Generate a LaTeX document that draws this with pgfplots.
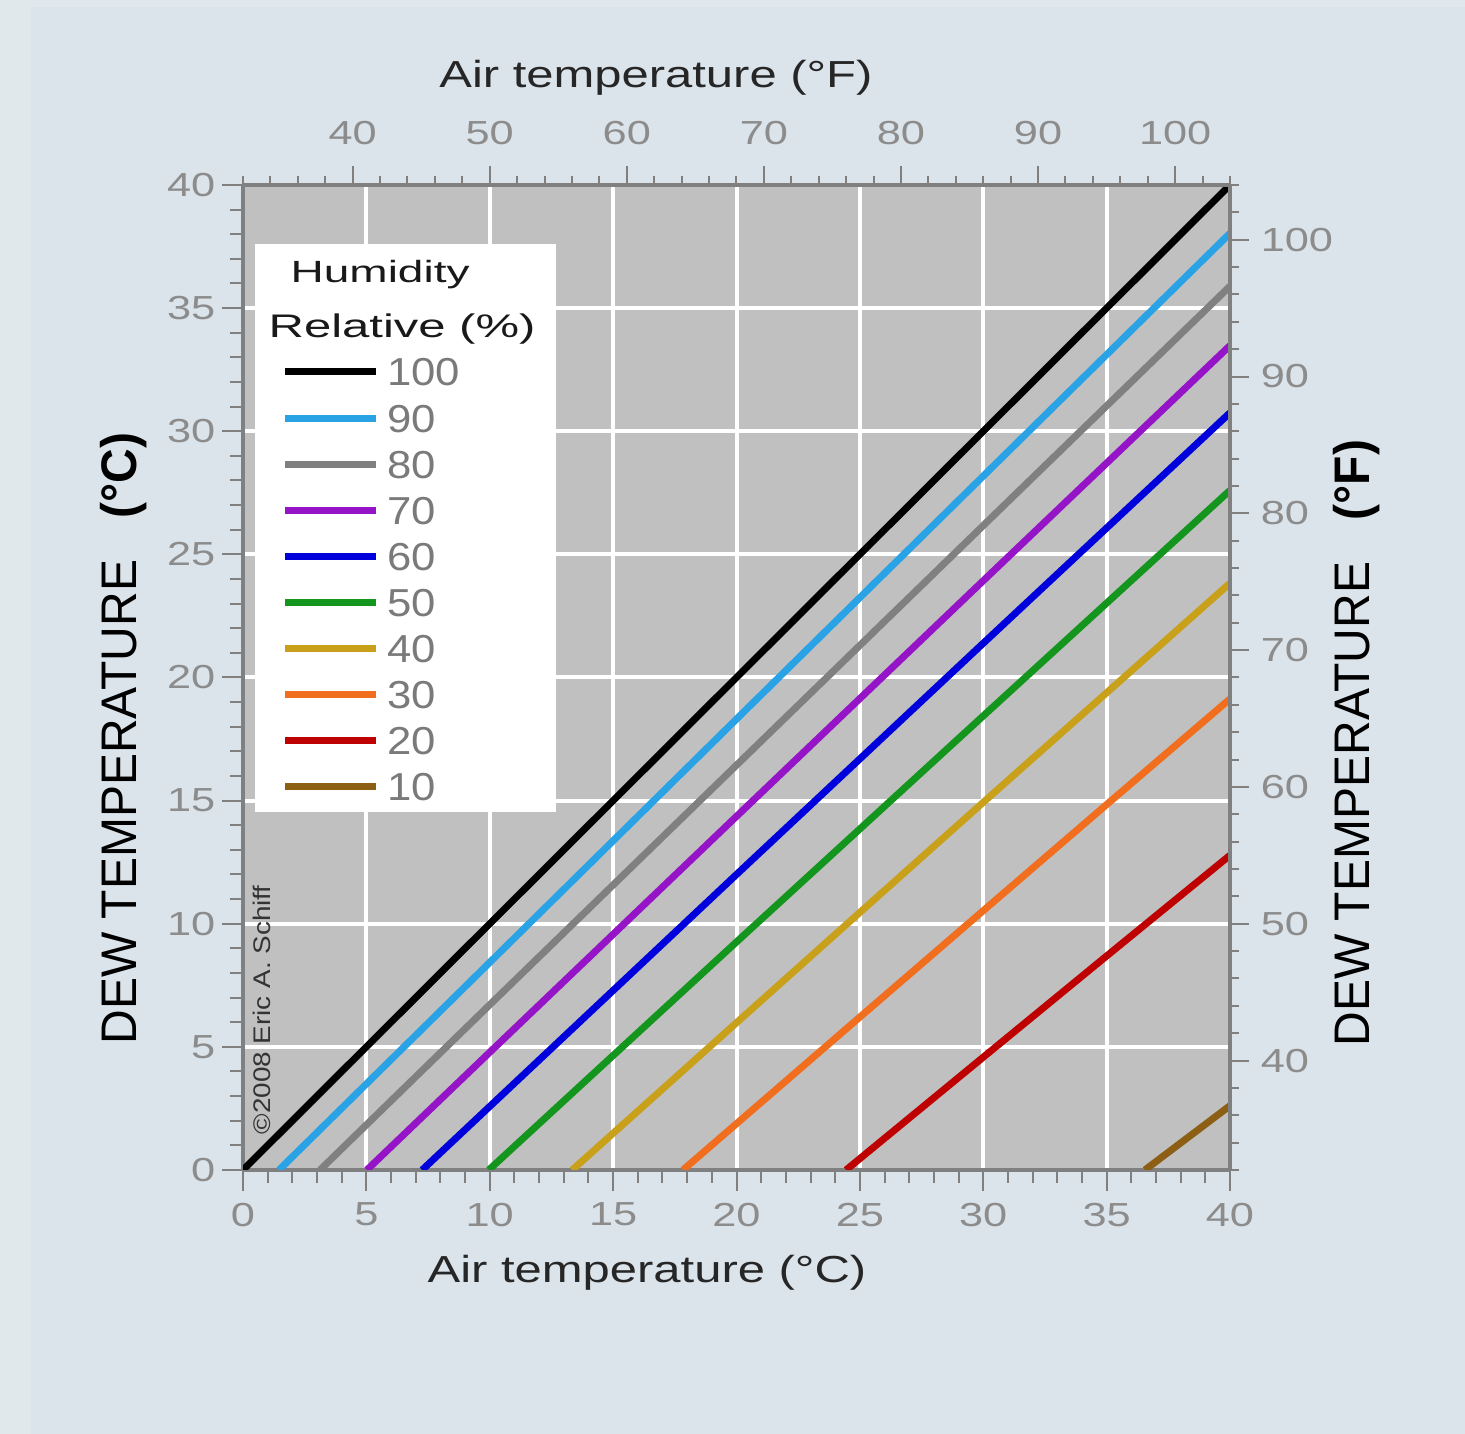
\documentclass[border=0pt]{standalone}
\usepackage{fontspec}
\setmainfont{Liberation Sans}
\usepackage{pgfplots}
\pgfplotsset{compat=1.18}

\definecolor{outerbg}{HTML}{E1E8EC}
\definecolor{innerbg}{HTML}{DCE4EB}
\definecolor{plotgray}{HTML}{C0C0C0}
\definecolor{axisgray}{HTML}{808080}
\definecolor{tickgray}{HTML}{8C8C8C}
\definecolor{leggray}{HTML}{7A7A7A}
\definecolor{rh90}{HTML}{29A3E6}
\definecolor{rh80}{HTML}{808080}
\definecolor{rh70}{HTML}{9614C8}
\definecolor{rh60}{HTML}{0000DC}
\definecolor{rh50}{HTML}{14961E}
\definecolor{rh40}{HTML}{C9A01A}
\definecolor{rh30}{HTML}{F06E1E}
\definecolor{rh20}{HTML}{BE0000}
\definecolor{rh10}{HTML}{8C5F14}

\begin{document}
\begin{tikzpicture}
\fill[outerbg] (0,0) rectangle (439.5pt,430.2pt);
\fill[innerbg] (9.3pt,0) rectangle (439.5pt,428.1pt);

% Celsius axes (bottom / left)
\begin{axis}[
  at={(72.9pt,79.2pt)}, anchor=south west,
  scale only axis, width=296.1pt, height=295.5pt,
  xmin=0, xmax=40, ymin=0, ymax=40,
  axis x line*=bottom, axis y line*=left,
  xtick={0,5,...,40}, ytick={0,5,...,40},
  minor x tick num=4, minor y tick num=4,
  tick align=outside,
  major tick length=6.3pt, minor tick length=3.9pt,
  tick style={axisgray, line width=0.6pt},
  axis line style={axisgray, line width=1pt},
  grid=major, major grid style={white, line width=1.2pt},
  axis background/.style={fill=plotgray},
  /pgf/number format/assume math mode=true,
  tick label style={font=\fontsize{10}{12}\selectfont, text=tickgray},
  yticklabel style={xshift=1.5pt},
  xticklabel={\scalebox{1.3}[1]{\pgfmathprintnumber{\tick}}},
  yticklabel={\scalebox{1.3}[1]{\pgfmathprintnumber{\tick}}},
  xlabel={\scalebox{1.3}[1]{Air temperature (°C)}},
  xlabel style={at={(axis description cs:0.4093,-0.1147)}, anchor=base, inner sep=0pt,
    font=\fontsize{11.3}{13}\selectfont, text=black!85},
  ylabel={\scalebox{0.96}[1]{DEW TEMPERATURE\hspace{13pt}\textbf{(°C)}}},
  ylabel style={at={(axis description cs:-0.1074,0.1269)}, anchor=base west, inner sep=0pt,
    font=\fontsize{15}{17}\selectfont, text=black},
  legend style={at={(axis description cs:0.0395,0.8244)}, anchor=north west,
    draw=none, fill=none, inner sep=0pt, outer sep=0pt,
    font=\fontsize{11.7}{12}\selectfont, text=leggray,
    row sep=5.43pt, column sep=2.2pt,
    cells={anchor=base west},
    nodes={inner sep=0pt, text height=8.4pt, text depth=0pt}},
  legend image code/.code={\draw[#1] (0pt,4.2pt) -- (27.3pt,4.2pt);},
]
\addplot[black, line width=2.1pt] coordinates {(0,0) (40,40)};
\addlegendentry{\scalebox{1.12}[1]{100}}
\addplot[rh90, line width=2.1pt] coordinates {(1.46,0) (10,8.43) (20,18.31) (30,28.18) (40,38.04)};
\addlegendentry{\scalebox{1.12}[1]{90}}
\addplot[rh80, line width=2.1pt] coordinates {(3.12,0) (10,6.71) (20,16.44) (30,26.17) (40,35.89)};
\addlegendentry{\scalebox{1.12}[1]{80}}
\addplot[rh70, line width=2.1pt] coordinates {(5.02,0) (10,4.78) (20,14.36) (30,23.93) (40,33.48)};
\addlegendentry{\scalebox{1.12}[1]{70}}
\addplot[rh60, line width=2.1pt] coordinates {(7.26,0) (10,2.58) (20,12.00) (30,21.39) (40,30.75)};
\addlegendentry{\scalebox{1.12}[1]{60}}
\addplot[rh50, line width=2.1pt] coordinates {(9.96,0) (15,4.65) (20,9.26) (30,18.44) (40,27.60)};
\addlegendentry{\scalebox{1.12}[1]{50}}
\addplot[rh40, line width=2.1pt] coordinates {(13.34,0) (20,5.98) (25,10.46) (30,14.93) (40,23.83)};
\addlegendentry{\scalebox{1.12}[1]{40}}
\addplot[rh30, line width=2.1pt] coordinates {(17.83,0) (20,1.88) (25,6.21) (30,10.53) (35,14.84) (40,19.13)};
\addlegendentry{\scalebox{1.12}[1]{30}}
\addplot[rh20, line width=2.1pt] coordinates {(24.44,0) (30,4.58) (35,8.69) (40,12.78)};
\addlegendentry{\scalebox{1.12}[1]{20}}
\addplot[rh10, line width=2.1pt] coordinates {(36.55,0) (40,2.61)};
\addlegendentry{\scalebox{1.12}[1]{10}}

% legend panel and titles
\fill[white] (axis description cs:0.0122,0.3635) rectangle (axis description cs:0.3171,0.9401);
\node[anchor=base west, inner sep=0pt, font=\fontsize{9.2}{10}\selectfont, text=black!90]
  at (axis description cs:0.0476,0.9005) {\scalebox{1.5}[1]{Humidity}};
\node[anchor=base west, inner sep=0pt, font=\fontsize{9.8}{11}\selectfont, text=black!90]
  at (axis description cs:0.0253,0.8447) {\scalebox{1.5}[1]{Relative (\%)}};
\node[rotate=90, anchor=base west, inner sep=0pt, font=\fontsize{7.2}{8}\selectfont, text=black!80]
  at (axis description cs:0.0274,0.0355) {\scalebox{1.16}[1]{©2008 Eric A. Schiff}};
\end{axis}

% Fahrenheit axes (top / right)
\begin{axis}[
  at={(72.9pt,79.2pt)}, anchor=south west,
  scale only axis, width=296.1pt, height=295.5pt,
  xmin=32, xmax=104, ymin=32, ymax=104,
  axis x line*=top, axis y line*=right,
  xtick={40,50,...,100}, ytick={40,50,...,100},
  minor xtick={32,34,...,104}, minor ytick={32,34,...,104},
  tick align=outside,
  major tick length=5.7pt, minor tick length=2.7pt,
  tick style={axisgray, line width=0.6pt},
  axis line style={axisgray, line width=1pt},
  /pgf/number format/assume math mode=true,
  tick label style={font=\fontsize{10}{12}\selectfont, text=tickgray},
  xticklabel style={yshift=2.7pt},
  xticklabel={\scalebox{1.3}[1]{\pgfmathprintnumber{\tick}}},
  yticklabel={\scalebox{1.3}[1]{\pgfmathprintnumber{\tick}}},
  xlabel={\scalebox{1.3}[1]{Air temperature (°F)}},
  xlabel style={at={(axis description cs:0.4184,1.0985)}, anchor=base, inner sep=0pt,
    font=\fontsize{11.3}{13}\selectfont, text=black!85},
  ylabel={\scalebox{0.96}[1]{DEW TEMPERATURE\hspace{13pt}\textbf{(°F)}}},
  ylabel style={at={(axis description cs:1.1418,0.1249)}, anchor=base west, inner sep=0pt,
    font=\fontsize{15}{17}\selectfont, text=black},
]
\addplot[draw=none] coordinates {(32,32) (104,104)};
\end{axis}
\end{tikzpicture}
\end{document}
